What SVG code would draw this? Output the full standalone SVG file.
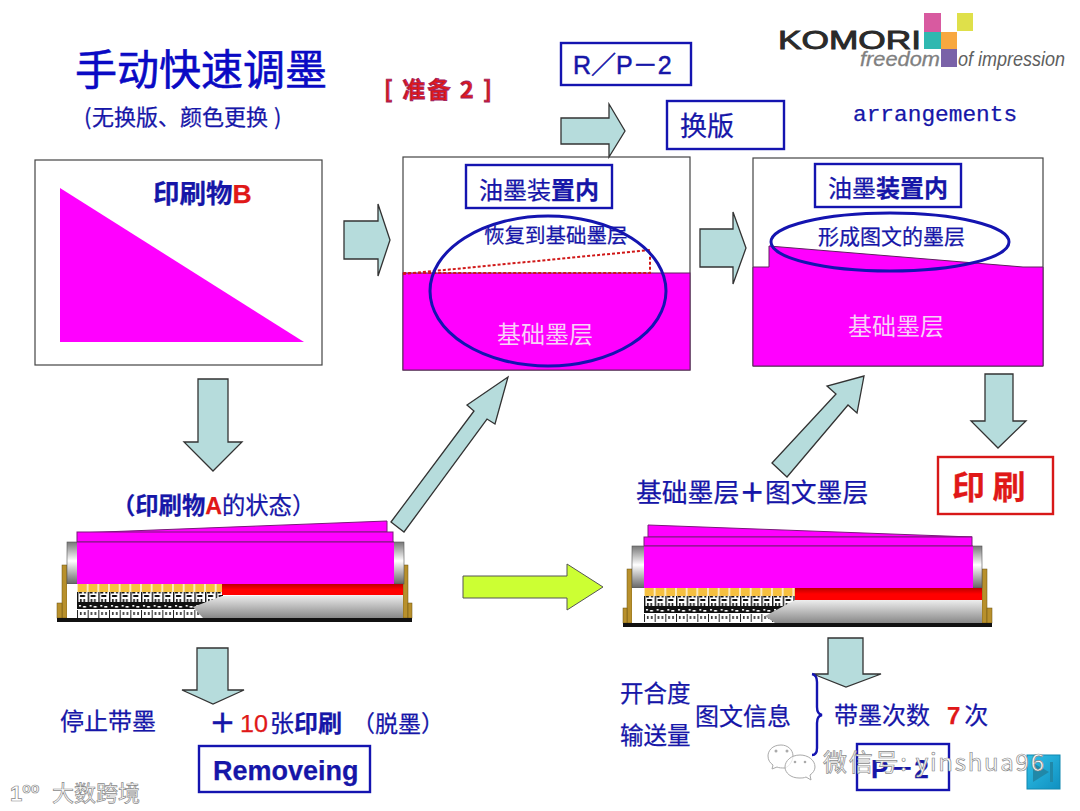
<svg xmlns="http://www.w3.org/2000/svg" width="1080" height="811" viewBox="0 0 1080 811">
<style>
text{font-family:"Noto Sans CJK SC","Liberation Sans",sans-serif;fill:#1616a8;stroke:#1616a8;stroke-width:.25}
.b{font-weight:700}
.l{font-family:"Liberation Sans","Noto Sans CJK SC",sans-serif}
text.r,tspan.r{fill:#e01818;stroke:#e01818}
text.w{fill:#f8d0f8;stroke:none}
.panel{fill:#fff;stroke:#444;stroke-width:1.2}
.box{fill:#fff;stroke:#1414b0;stroke-width:2.4}
.ink{fill:#f0f;stroke:none}
.layer{fill:#f0f;stroke:#7a1a7a;stroke-width:1}
.ell{fill:none;stroke:#1414b0;stroke-width:3}
.arr{fill:#b6dcdc;stroke:#333;stroke-width:1.3}
.br{fill:#b8902c;stroke:#6a5010;stroke-width:.5}
.wm{fill:#fff;fill-opacity:.75;stroke:#aaa;stroke-width:1}
text.wt{fill:#fff;stroke:#8a8a8a;stroke-width:.7}
</style>
<defs>
<linearGradient id="rollerL" x1="0" y1="0" x2="0" y2="1"><stop offset="0" stop-color="#777"/><stop offset=".45" stop-color="#fff"/><stop offset="1" stop-color="#666"/></linearGradient>
<linearGradient id="blade" x1="0" y1="0" x2="0" y2="1"><stop offset="0" stop-color="#eee"/><stop offset="1" stop-color="#888"/></linearGradient>
<linearGradient id="red" x1="0" y1="0" x2="0" y2="1"><stop offset="0" stop-color="#b00"/><stop offset=".5" stop-color="#f00"/><stop offset="1" stop-color="#f00"/></linearGradient>
<linearGradient id="btn" x1="0" y1="0" x2="1" y2="1"><stop offset="0" stop-color="#30c0e8"/><stop offset="1" stop-color="#1090c0"/></linearGradient>
<g id="keycell">
<rect width="10.67" height="34" fill="#fff"/>
<rect x=".6" width="9.4" height="8" fill="#f6c040"/>
<path d="M2,8h3v1.5h-3zM7,8h2v1.5h-2z" fill="#111"/>
<rect y="8" width="1.4" height="10" fill="#111"/>
<rect x="3" y="11" width="5" height="2" fill="#111"/><rect x="3" y="15" width="1.6" height="3" fill="#111"/><rect x="6.4" y="15" width="1.6" height="3" fill="#111"/>
<rect y="18" width="10.67" height="7" fill="#111"/>
<rect x="2" y="21" width="2" height="1.6" fill="#fff"/><rect x="6" y="22" width="3" height="1.6" fill="#fff"/>
<rect x="3" y="28" width="1.5" height="3" fill="#222"/><rect x="7" y="28" width="1.5" height="3" fill="#222"/><rect y="26" width="1" height="8" fill="#222"/>
</g>
<pattern id="keys" width="10.67" height="34" patternUnits="userSpaceOnUse" x="77" y="584"><use href="#keycell"/></pattern>
<pattern id="keys2" width="10.67" height="35" patternUnits="userSpaceOnUse" x="644" y="588"><rect width="10.67" height="35" fill="#fff"/><use href="#keycell"/></pattern>
</defs>
<rect width="1080" height="811" fill="#fff"/>

<g id="title">
<text x="75" y="85" font-size="42" style="fill:#0a0ac4;stroke:#0a0ac4;stroke-width:.6">手动快速调墨</text>
<text font-size="22" y="125"><tspan x="84">(</tspan><tspan x="92">无换版、颜色更换</tspan><tspan x="274">)</tspan></text>
<text x="384" y="98" font-size="23" class="b r" textLength="108" style="stroke:#a02060;stroke-width:.8">[ 准备 2 ]</text>
</g>

<g id="logo">
<rect x="924" y="13" width="17" height="19" fill="#d85aa0"/>
<rect x="957" y="13" width="16" height="18" fill="#dfe04a"/>
<rect x="924" y="32" width="17" height="17" fill="#2fb8b0"/>
<rect x="941" y="32" width="16" height="17" fill="#f8a840"/>
<rect x="941" y="49" width="16" height="18" fill="#7a62a8"/>
<text x="778" y="49" font-size="25" class="l" style="fill:#2a2a2a;stroke:#2a2a2a;stroke-width:.9" textLength="143" lengthAdjust="spacingAndGlyphs">KOMORI</text>
<text x="860" y="66" font-size="20" class="l" font-style="italic" style="fill:#808080;stroke:#808080;stroke-width:.3" textLength="80" lengthAdjust="spacingAndGlyphs">freedom</text>
<text x="958" y="66" font-size="20" class="l" font-style="italic" style="fill:#606060;stroke:none" textLength="107" lengthAdjust="spacingAndGlyphs">of impression</text>
</g>

<g id="rp2"><rect class="box" x="561" y="43" width="130" height="42"/><text x="573" y="74" font-size="25" class="l" style="stroke-width:.5">R／P－2</text></g>
<g id="change-plate"><rect class="box" x="667" y="101" width="117" height="48"/><text x="680" y="136" font-size="27">换版</text></g>
<g id="arrangements"><text x="853" y="121" font-size="22.8" style="font-family:'Liberation Mono',monospace">arrangements</text></g>

<g id="panel-b">
<rect class="panel" x="35" y="160" width="287" height="205"/>
<polygon class="ink" points="60,188 60,342 304,342"/>
<text x="153" y="203" font-size="26.5" class="b">印刷物<tspan class="r l">B</tspan></text>
</g>

<g id="panel-restore">
<rect class="panel" x="403" y="157" width="287" height="213"/>
<rect x="403" y="273" width="287" height="97" fill="#f0f" stroke="#602060"/>
<polyline points="403,274 650,250 650,273 403,273" fill="none" stroke="#d01818" stroke-width="2" stroke-dasharray="3 2"/>
<rect class="box" x="466" y="165" width="146" height="43"/>
<text x="479" y="199" font-size="24">油墨装<tspan class="b">置内</tspan></text>
<text x="484" y="243" font-size="20.5">恢复到基础墨层</text>
<text class="w" x="497" y="343" font-size="24">基础墨层</text>
<ellipse class="ell" cx="548" cy="291" rx="118" ry="75"/>
</g>

<g id="panel-form">
<rect class="panel" x="753" y="158" width="290" height="208"/>
<polygon points="753,267 769,267 769,246 1023,267 1043,267 1043,366 753,366" fill="#f0f" stroke="#602060"/>
<rect class="box" x="815" y="164" width="146" height="43"/>
<text x="828" y="197" font-size="24">油墨<tspan class="b">装置内</tspan></text>
<text x="818" y="244" font-size="21">形成图文的墨层</text>
<text class="w" x="848" y="335" font-size="24">基础墨层</text>
<ellipse class="ell" cx="890" cy="242" rx="119" ry="29"/>
</g>

<g id="print"><rect x="938" y="457" width="115" height="57" fill="#fff" stroke="#d81818" stroke-width="2.4"/><text class="r b" x="952" y="499" font-size="33">印 刷</text></g>

<g id="state-a-label"><text x="112" y="514" font-size="23.3" class="b">（印刷物<tspan class="r l">A</tspan><tspan font-weight="400">的状态）</tspan></text></g>

<g id="machine-a">
<rect class="br" x="62" y="565" width="5" height="53"/><rect class="br" x="57" y="603" width="5" height="15"/>
<rect class="br" x="403" y="565" width="5" height="53"/><rect class="br" x="408" y="603" width="4" height="15"/>
<rect x="67" y="542" width="337" height="42" fill="url(#rollerL)" stroke="#555" stroke-width=".6"/>
<polygon class="layer" points="77,533 387,521 387,532 77,533"/>
<rect class="layer" x="77" y="532" width="316" height="10"/>
<rect class="ink" x="77" y="542" width="317" height="42"/>
<line x1="77" y1="542" x2="394" y2="542" stroke="#7a1a7a"/>
<rect x="67" y="584" width="10" height="34" fill="#fff"/>
<rect x="77" y="584" width="146" height="34" fill="url(#keys)"/>
<rect x="222" y="584" width="181" height="11" fill="url(#red)"/>
<polygon points="203,618 193,607 222,596 403,595 403,618" fill="url(#blade)"/>
<rect x="57" y="618" width="355" height="4" fill="#111"/>
</g>

<g id="layers-label"><text x="636" y="502" font-size="25.8">基础墨层<tspan class="b">＋</tspan>图文墨层</text></g>

<g id="machine-b">
<rect class="br" x="627" y="569" width="5" height="54"/><rect class="br" x="623" y="608" width="4" height="15"/>
<rect class="br" x="982" y="569" width="5" height="54"/><rect class="br" x="987" y="608" width="5" height="15"/>
<rect x="632" y="546" width="350" height="42" fill="url(#rollerL)" stroke="#555" stroke-width=".6"/>
<polygon class="layer" points="648,525 972,537 648,537"/>
<rect class="layer" x="644" y="537" width="328" height="9"/>
<rect class="ink" x="644" y="546" width="329" height="42"/>
<line x1="644" y1="546" x2="973" y2="546" stroke="#7a1a7a"/>
<rect x="632" y="588" width="12" height="35" fill="#fff"/>
<rect x="644" y="588" width="151" height="35" fill="url(#keys2)"/>
<rect x="795" y="588" width="187" height="12" fill="url(#red)"/>
<polygon points="775,623 765,616 795,600 982,600 982,623" fill="url(#blade)"/>
<rect x="623" y="623" width="369" height="4" fill="#111"/>
</g>

<g id="connectors">
<polygon class="arr" points="344,221 378,221 378,204 390,240 378,276 378,259 344,259"/>
<polygon class="arr" points="561,118 609,118 609,104 625,131 609,157 609,144 561,144"/>
<polygon class="arr" points="700,229 733,229 733,212 746,248 733,284 733,267 700,267"/>
<polygon class="arr" points="198,379 228,379 228,442 242,442 213,471 184,442 198,442"/>
<polygon class="arr" points="985,374 1013,374 1013,421 1026,421 998,448 971,421 985,421"/>
<polygon class="arr" points="197,648 228,648 228,690 244,690 213,704 182,690 197,690"/>
<polygon class="arr" points="828,638 863,638 863,674 881,674 846,687 813,674 828,674"/>
<polygon points="463,576 567,576 567,564 603,587 567,610 567,598 463,598" fill="#ccff33" stroke="#555" stroke-width="1"/>
<polygon class="arr" points="391,522 404,532 487,419 495,424 508,377 467,405 474,411"/>
<polygon class="arr" points="772,463 787,477 848,405 857,413 864,376 827,386 836,394"/>
</g>

<g id="stop-ink"><text x="60" y="730" font-size="24">停止带墨</text></g>
<g id="plus-ten">
<text x="209" y="733" font-size="27" class="b">＋</text>
<text x="240" y="732" font-size="24" class="l r" textLength="28" lengthAdjust="spacingAndGlyphs">10</text>
<text x="270" y="732" font-size="24">张<tspan class="b">印刷</tspan></text>
<text x="352" y="732" font-size="23">（脱墨）</text>
</g>
<g id="removeing"><rect class="box" x="199" y="746" width="171" height="46"/><text x="213" y="780" font-size="27" class="l b">Removeing</text></g>

<g id="open-feed"><text x="620" y="702" font-size="23.5">开合度</text><text x="620" y="744" font-size="23.5">输送量</text></g>
<g id="image-info"><text x="695" y="725" font-size="24">图文信息</text></g>
<g id="brace"><path d="M812,674 Q817,675 817,682 L817,707 Q817,714 822,715 Q817,716 817,723 L817,748 Q817,755 812,755" fill="none" stroke="#1414b0" stroke-width="2.4"/></g>
<g id="ink-count"><text x="834" y="724" font-size="24">带墨次数<tspan class="r l b" dx="17">7</tspan><tspan dx="4">次</tspan></text></g>
<g id="p2"><rect class="box" x="857" y="744" width="92" height="46"/><text x="871" y="778" font-size="26" class="l b">P－2</text></g>
<g id="next-button"><rect x="1027" y="755" width="33" height="34" fill="url(#btn)" stroke="#1088b0"/><polygon points="1033,763 1049,772 1033,782" fill="#2088a8"/><rect x="1050" y="762" width="3" height="20" fill="#2088a8"/></g>

<g id="watermark-wechat">
<path class="wm" d="M781,745 C772,745 768,751 768,756 C768,760 770,763 773,765 L772,769 L777,767 C779,768 782,768 785,768 C790,766 793,760 793,756 C793,750 788,745 781,745Z"/>
<path class="wm" d="M800,755 C791,755 785,761 785,767 C785,773 791,778 799,778 C802,778 804,778 806,777 L811,780 L810,775 C813,773 815,770 815,767 C815,760 808,755 800,755Z"/>
<circle cx="776" cy="751" r="1.5" fill="#aaa"/><circle cx="787" cy="751" r="1.5" fill="#aaa"/><circle cx="795" cy="762" r="1.3" fill="#aaa"/><circle cx="805" cy="762" r="1.3" fill="#aaa"/>
<text class="wt" x="823" y="771" font-size="24" textLength="221">微信号: yinshua96</text>
</g>
<g id="watermark-brand">
<text class="wt l b" x="10" y="801" font-size="22">1<tspan dy="-8" font-size="14">oo</tspan></text>
<text class="wt" x="52" y="801" font-size="22">大数跨境</text>
</g>
</svg>
